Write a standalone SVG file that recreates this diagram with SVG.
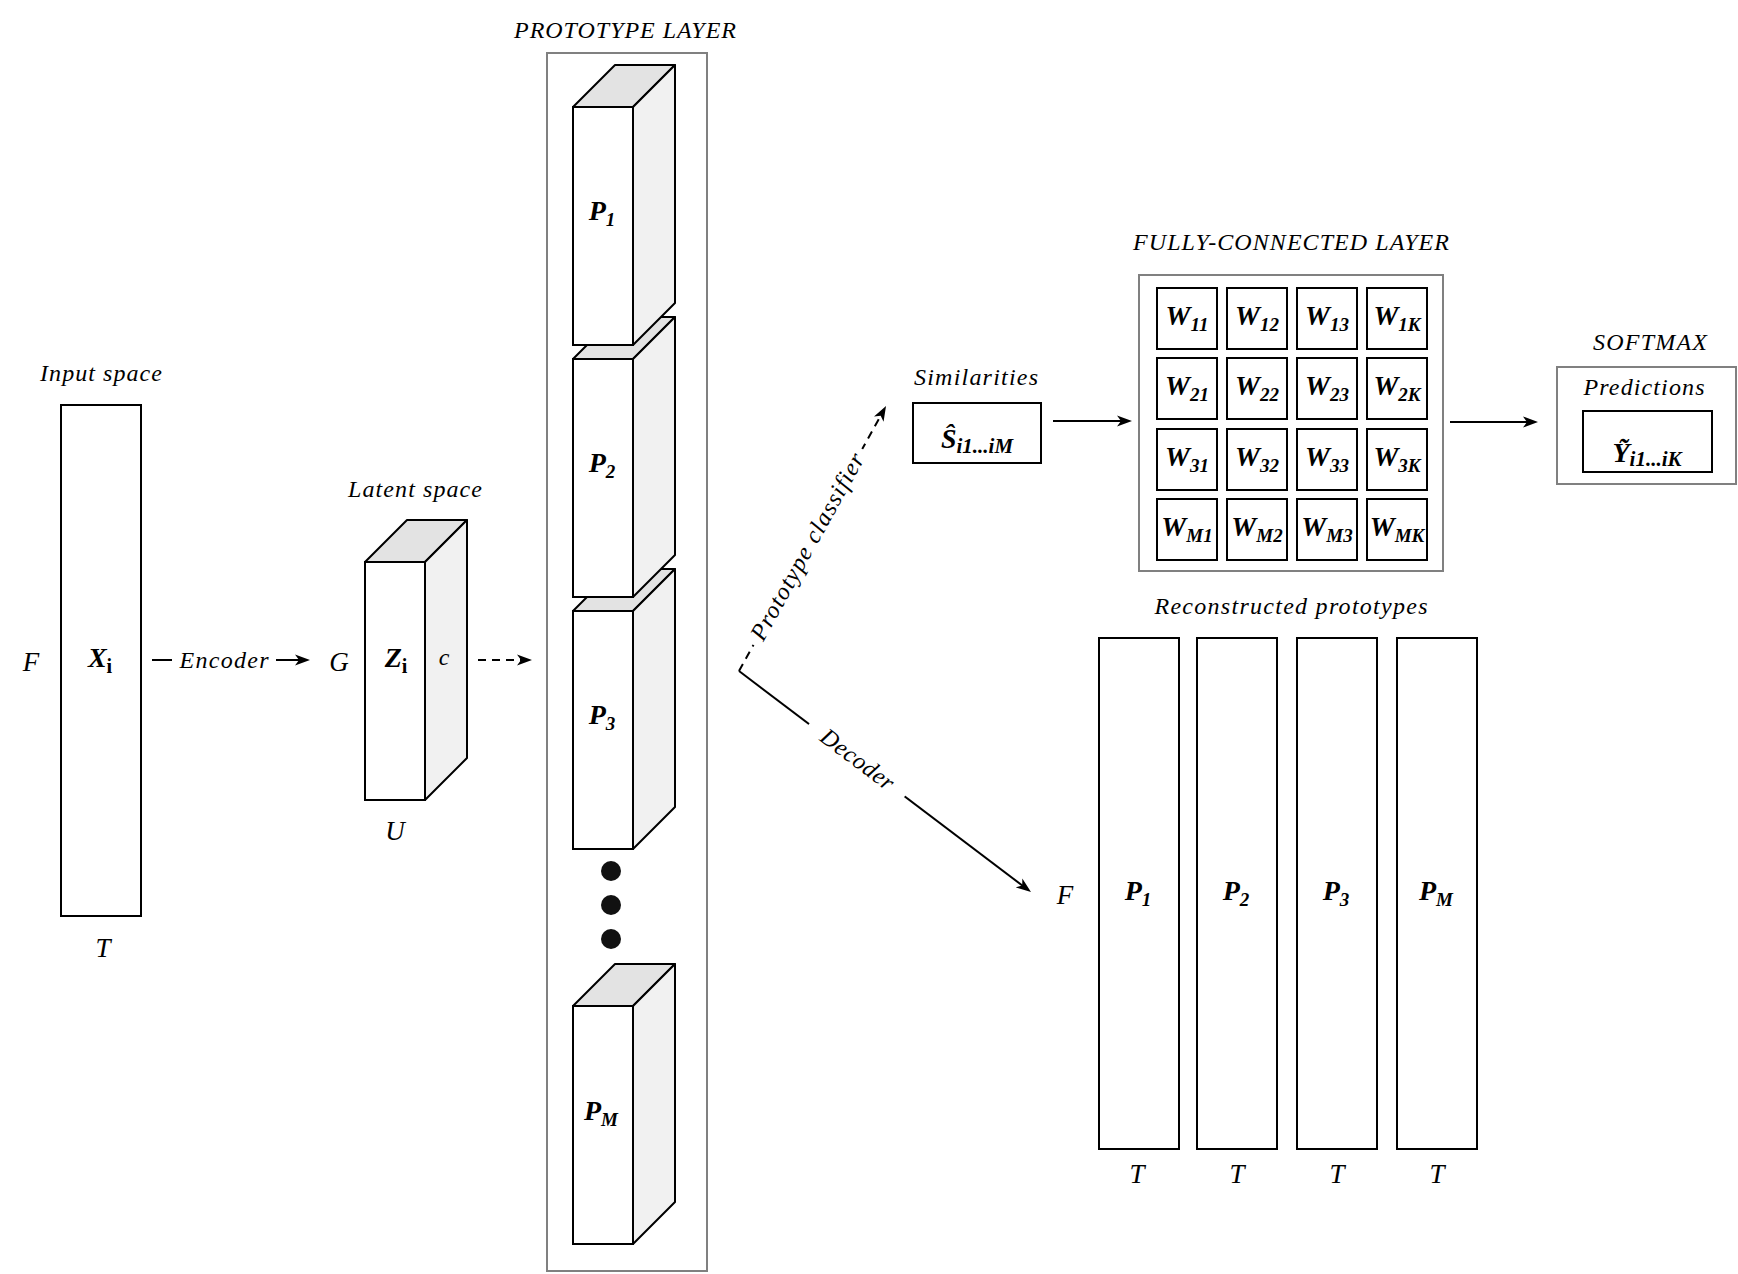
<svg xmlns="http://www.w3.org/2000/svg" width="1738" height="1274" viewBox="0 0 1738 1274">
<defs>
<style>
.lbl{font-family:"Liberation Serif",serif;font-style:italic;font-size:24px;fill:#000}
.dim{font-family:"Liberation Serif",serif;font-style:italic;font-size:27px;fill:#000}
.math{font-family:"Liberation Serif",serif;font-style:italic;font-weight:bold;font-size:28px;fill:#000}
.sub{font-size:19px}
.box{fill:#fff;stroke:#000;stroke-width:2}
.grp{fill:none;stroke:#808080;stroke-width:2}
.top{fill:#e3e3e3;stroke:#000;stroke-width:2;stroke-linejoin:round}
.side{fill:#f1f1f1;stroke:#000;stroke-width:2;stroke-linejoin:round}
.edge{fill:none;stroke:#000;stroke-width:2}
.dash{stroke-dasharray:8 6}
</style>
<marker id="ah" markerUnits="userSpaceOnUse" markerWidth="16" markerHeight="12" viewBox="0 0 16 12" refX="10" refY="6" orient="auto">
<path d="M0,0.5 L15,6 L0,11.5 L4,6 z" fill="#000"/>
</marker>
</defs>
<rect width="1738" height="1274" fill="#fff"/>

<g id="connectors">
<line class="edge" x1="152" y1="660" x2="305" y2="660" marker-end="url(#ah)"/>
<line class="edge dash" x1="478" y1="660" x2="527" y2="660" marker-end="url(#ah)"/>
<line class="edge dash" x1="739" y1="671" x2="883.6" y2="410.4" marker-end="url(#ah)"/>
<line class="edge" x1="739" y1="671" x2="1027" y2="889" marker-end="url(#ah)"/>
<line class="edge" x1="1053" y1="421" x2="1127" y2="421" marker-end="url(#ah)"/>
<line class="edge" x1="1450" y1="422" x2="1533" y2="422" marker-end="url(#ah)"/>
<rect x="172" y="646" width="104" height="28" fill="#fff"/>
<text class="lbl" x="224" y="668" text-anchor="middle" textLength="89">Encoder</text>
<g transform="translate(808,547) rotate(-61)">
<rect x="-112" y="-14" width="224" height="28" fill="#fff"/>
<text class="lbl" x="0" y="7" text-anchor="middle" textLength="210">Prototype classifier</text>
</g>
<g transform="translate(857,760) rotate(37.1)">
<rect x="-60" y="-14" width="120" height="28" fill="#fff"/>
<text class="lbl" x="0" y="7" text-anchor="middle" textLength="86">Decoder</text>
</g>
</g>

<g id="input">
<text class="lbl" x="101" y="381" text-anchor="middle" textLength="122">Input space</text>
<rect class="box" x="61" y="405" width="80" height="511"/>
<text class="math" x="100" y="667" text-anchor="middle" font-size="30">X<tspan font-style="normal" font-size="20" dy="6">i</tspan></text>
<text class="dim" x="31" y="671" text-anchor="middle">F</text>
<text class="dim" x="103" y="957" text-anchor="middle">T</text>
</g>

<g id="latent">
<text class="lbl" x="415" y="497" text-anchor="middle" textLength="134">Latent space</text>
<polygon class="top" points="365,562 407,520 467,520 425,562"/>
<polygon class="side" points="425,562 467,520 467,758 425,800"/>
<rect class="box" x="365" y="562" width="60" height="238"/>
<text class="math" x="396" y="667" text-anchor="middle" font-size="30">Z<tspan font-style="normal" font-size="20" dy="6">i</tspan></text>
<text class="lbl" x="444" y="665" text-anchor="middle" font-size="20">c</text>
<text class="dim" x="339" y="671" text-anchor="middle">G</text>
<text class="dim" x="395" y="840" text-anchor="middle">U</text>
</g>

<g id="prototype-layer">
<text class="lbl" x="625" y="38" text-anchor="middle" textLength="222">PROTOTYPE LAYER</text>
<rect class="grp" x="547" y="53" width="160" height="1218"/>
<g id="proto-PM">
<polygon class="top" points="573,1006 615,964 675,964 633,1006"/>
<polygon class="side" points="633,1006 675,964 675,1202 633,1244"/>
<rect class="box" x="573" y="1006" width="60" height="238"/>
<text class="math" x="601" y="1120" text-anchor="middle">P<tspan class="sub" dy="6">M</tspan></text>
</g>
<g id="dots">
<circle cx="611" cy="871" r="10" fill="#111"/>
<circle cx="611" cy="905" r="10" fill="#111"/>
<circle cx="611" cy="939" r="10" fill="#111"/>
</g>
<g id="proto-P3">
<polygon class="top" points="573,611 615,569 675,569 633,611"/>
<polygon class="side" points="633,611 675,569 675,807 633,849"/>
<rect class="box" x="573" y="611" width="60" height="238"/>
<text class="math" x="602" y="724" text-anchor="middle">P<tspan class="sub" dy="6">3</tspan></text>
</g>
<g id="proto-P2">
<polygon class="top" points="573,359 615,317 675,317 633,359"/>
<polygon class="side" points="633,359 675,317 675,555 633,597"/>
<rect class="box" x="573" y="359" width="60" height="238"/>
<text class="math" x="602" y="472" text-anchor="middle">P<tspan class="sub" dy="6">2</tspan></text>
</g>
<g id="proto-P1">
<polygon class="top" points="573,107 615,65 675,65 633,107"/>
<polygon class="side" points="633,107 675,65 675,303 633,345"/>
<rect class="box" x="573" y="107" width="60" height="238"/>
<text class="math" x="602" y="220" text-anchor="middle">P<tspan class="sub" dy="6">1</tspan></text>
</g>
</g>

<g id="similarities">
<text class="lbl" x="976" y="385" text-anchor="middle" textLength="124">Similarities</text>
<rect class="box" x="913" y="403" width="128" height="60"/>
<text class="math" x="977" y="448" text-anchor="middle" font-size="30">Ŝ<tspan font-size="21" dy="5">i1...iM</tspan></text>
</g>

<g id="fc-layer">
<text class="lbl" x="1291" y="250" text-anchor="middle" textLength="316">FULLY-CONNECTED LAYER</text>
<rect class="grp" x="1139" y="275" width="304" height="296"/>
<g id="w-cells">
<rect class="box" x="1157" y="288" width="60" height="61"/><text class="math" x="1187" y="325" text-anchor="middle">W<tspan class="sub" dy="6">11</tspan></text>
<rect class="box" x="1227" y="288" width="60" height="61"/><text class="math" x="1257" y="325" text-anchor="middle">W<tspan class="sub" dy="6">12</tspan></text>
<rect class="box" x="1297" y="288" width="60" height="61"/><text class="math" x="1327" y="325" text-anchor="middle">W<tspan class="sub" dy="6">13</tspan></text>
<rect class="box" x="1367" y="288" width="60" height="61"/><text class="math" x="1397" y="325" text-anchor="middle">W<tspan class="sub" dy="6">1K</tspan></text>
<rect class="box" x="1157" y="358" width="60" height="61"/><text class="math" x="1187" y="395" text-anchor="middle">W<tspan class="sub" dy="6">21</tspan></text>
<rect class="box" x="1227" y="358" width="60" height="61"/><text class="math" x="1257" y="395" text-anchor="middle">W<tspan class="sub" dy="6">22</tspan></text>
<rect class="box" x="1297" y="358" width="60" height="61"/><text class="math" x="1327" y="395" text-anchor="middle">W<tspan class="sub" dy="6">23</tspan></text>
<rect class="box" x="1367" y="358" width="60" height="61"/><text class="math" x="1397" y="395" text-anchor="middle">W<tspan class="sub" dy="6">2K</tspan></text>
<rect class="box" x="1157" y="429" width="60" height="61"/><text class="math" x="1187" y="466" text-anchor="middle">W<tspan class="sub" dy="6">31</tspan></text>
<rect class="box" x="1227" y="429" width="60" height="61"/><text class="math" x="1257" y="466" text-anchor="middle">W<tspan class="sub" dy="6">32</tspan></text>
<rect class="box" x="1297" y="429" width="60" height="61"/><text class="math" x="1327" y="466" text-anchor="middle">W<tspan class="sub" dy="6">33</tspan></text>
<rect class="box" x="1367" y="429" width="60" height="61"/><text class="math" x="1397" y="466" text-anchor="middle">W<tspan class="sub" dy="6">3K</tspan></text>
<rect class="box" x="1157" y="499" width="60" height="61"/><text class="math" x="1187" y="536" text-anchor="middle">W<tspan class="sub" dy="6" font-size="17">M1</tspan></text>
<rect class="box" x="1227" y="499" width="60" height="61"/><text class="math" x="1257" y="536" text-anchor="middle">W<tspan class="sub" dy="6" font-size="17">M2</tspan></text>
<rect class="box" x="1297" y="499" width="60" height="61"/><text class="math" x="1327" y="536" text-anchor="middle">W<tspan class="sub" dy="6" font-size="17">M3</tspan></text>
<rect class="box" x="1367" y="499" width="60" height="61"/><text class="math" x="1397" y="536" text-anchor="middle">W<tspan class="sub" dy="6" font-size="17">MK</tspan></text>
</g>
</g>

<g id="softmax">
<text class="lbl" x="1650" y="350" text-anchor="middle" textLength="114">SOFTMAX</text>
<rect class="grp" x="1557" y="367" width="179" height="117"/>
<text class="lbl" x="1644" y="395" text-anchor="middle" textLength="121">Predictions</text>
<rect class="box" x="1583" y="411" width="129" height="61"/>
<text class="math" x="1647" y="462" text-anchor="middle" font-size="30">Ỹ<tspan font-size="21" dy="4">i1...iK</tspan></text>
</g>

<g id="reconstructed">
<text class="lbl" x="1291" y="614" text-anchor="middle" textLength="273">Reconstructed prototypes</text>
<text class="dim" x="1065" y="904" text-anchor="middle">F</text>
<g id="rec-P1">
<rect class="box" x="1099" y="638" width="80" height="511"/>
<text class="math" x="1138" y="900" text-anchor="middle">P<tspan class="sub" dy="6">1</tspan></text>
<text class="dim" x="1137" y="1183" text-anchor="middle">T</text>
</g>
<g id="rec-P2">
<rect class="box" x="1197" y="638" width="80" height="511"/>
<text class="math" x="1236" y="900" text-anchor="middle">P<tspan class="sub" dy="6">2</tspan></text>
<text class="dim" x="1237" y="1183" text-anchor="middle">T</text>
</g>
<g id="rec-P3">
<rect class="box" x="1297" y="638" width="80" height="511"/>
<text class="math" x="1336" y="900" text-anchor="middle">P<tspan class="sub" dy="6">3</tspan></text>
<text class="dim" x="1337" y="1183" text-anchor="middle">T</text>
</g>
<g id="rec-PM">
<rect class="box" x="1397" y="638" width="80" height="511"/>
<text class="math" x="1436" y="900" text-anchor="middle">P<tspan class="sub" dy="6">M</tspan></text>
<text class="dim" x="1437" y="1183" text-anchor="middle">T</text>
</g>
</g>
</svg>
